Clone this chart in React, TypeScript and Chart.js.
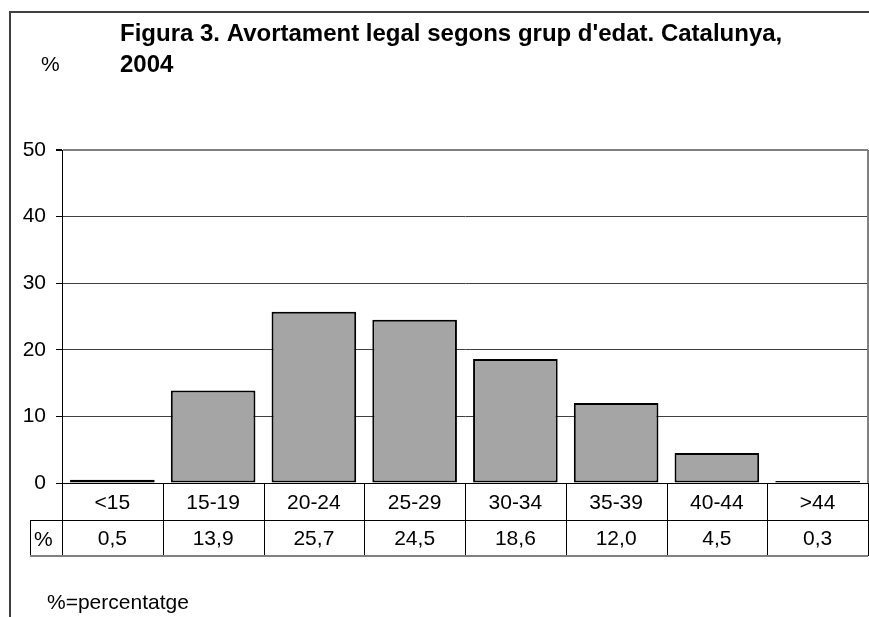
import React, { useEffect, useRef } from "react";
import { Chart, registerables } from "chart.js";

Chart.register(...registerables);

const titleLine1 = "Figura 3. Avortament legal segons grup d'edat. Catalunya,";
const titleLine2 = "2004";
const yUnit = "%";
const footnote = "%=percentatge";
const rowLabel = "%";
const ageGroups = ["<15", "15-19", "20-24", "25-29", "30-34", "35-39", "40-44", ">44"];
const percentages = [0.5, 13.9, 25.7, 24.5, 18.6, 12.0, 4.5, 0.3];
const percentLabels = ["0,5", "13,9", "25,7", "24,5", "18,6", "12,0", "4,5", "0,3"];

const FONT = "'Liberation Sans', Arial, sans-serif";

const decorPlugin = {
  id: "decor",
  afterDraw(chart: any) {
    const ctx = chart.ctx;
    const area = chart.chartArea;
    const xs = chart.scales.x;
    const n = ageGroups.length;
    const colW = (area.right - area.left) / n;
    ctx.save();
    // outer frame
    ctx.strokeStyle = "#404040";
    ctx.lineWidth = 2;
    ctx.beginPath();
    ctx.moveTo(10, 617);
    ctx.lineTo(10, 12);
    ctx.lineTo(869, 12);
    ctx.stroke();
    // plot area right border
    ctx.strokeStyle = "#808080";
    ctx.lineWidth = 2;
    ctx.beginPath();
    ctx.moveTo(area.right, area.top);
    ctx.lineTo(area.right, area.bottom);
    ctx.stroke();
    // title
    ctx.fillStyle = "#000";
    ctx.font = "bold 24px " + FONT;
    ctx.textAlign = "left";
    ctx.textBaseline = "alphabetic";
    ctx.fillText(titleLine1, 120, 41);
    ctx.fillText(titleLine2, 120, 72);
    ctx.font = "21px " + FONT;
    ctx.fillText(yUnit, 41, 71);
    ctx.fillText(footnote, 47, 609);
    // table
    const t0 = area.bottom;
    const t1 = t0 + 37;
    const t2 = t1 + 36;
    ctx.strokeStyle = "#000";
    ctx.lineWidth = 1;
    ctx.beginPath();
    ctx.moveTo(area.left, t0 + 0.5);
    ctx.lineTo(area.right, t0 + 0.5);
    ctx.moveTo(30, t1 + 0.5);
    ctx.lineTo(area.right, t1 + 0.5);
    ctx.moveTo(30.5, t1);
    ctx.lineTo(30.5, t2);
    for (let i = 0; i <= n; i++) {
      const x = Math.round(area.left + i * colW) + 0.5;
      ctx.moveTo(x, t0);
      ctx.lineTo(x, t2);
    }
    ctx.stroke();
    ctx.strokeStyle = "#808080";
    ctx.lineWidth = 2;
    ctx.beginPath();
    ctx.moveTo(30, t2);
    ctx.lineTo(area.right, t2);
    ctx.stroke();
    ctx.fillStyle = "#000";
    ctx.font = "21px " + FONT;
    ctx.textAlign = "center";
    for (let i = 0; i < n; i++) {
      const cx = xs.getPixelForValue(i);
      ctx.fillText(ageGroups[i], cx, t0 + 26);
      ctx.fillText(percentLabels[i], cx, t1 + 25);
    }
    ctx.textAlign = "left";
    ctx.fillText(rowLabel, 34, t1 + 26);
    ctx.restore();
  },
};

export default function App() {
  const ref = useRef<HTMLCanvasElement | null>(null);
  useEffect(() => {
    if (!ref.current) return;
    const chart = new Chart(ref.current, {
      type: "bar",
      data: {
        labels: ageGroups,
        datasets: [
          {
            data: percentages,
            backgroundColor: "#a5a5a5",
            borderColor: "#000",
            borderWidth: 2,
            borderSkipped: false,
            barPercentage: 0.84,
            categoryPercentage: 1,
          },
        ],
      },
      options: {
        responsive: false,
        animation: false,
        layout: { padding: { top: 150, bottom: 134, left: 0, right: 1 } },
        plugins: { legend: { display: false }, tooltip: { enabled: false }, title: { display: false } },
        scales: {
          x: { display: false },
          y: {
            min: 0,
            max: 50,
            afterFit: (s: any) => {
              s.width = 62;
            },
            ticks: { stepSize: 10, color: "#000", font: { family: FONT, size: 21 }, padding: 10 },
            grid: {
              color: (c: any) => (c.tick && c.tick.value === 50 ? "#808080" : "#404040"),
              lineWidth: (c: any) => (c.tick && c.tick.value === 50 ? 2 : 1),
              tickLength: 6,
              tickColor: "#000",
            },
            border: { color: "#000", width: 1 },
          },
        },
      },
      plugins: [decorPlugin],
    });
    return () => chart.destroy();
  }, []);
  return (
    <div style={{ position: "absolute", left: 0, top: 0, width: 869, height: 617, background: "#fff" }}>
      <canvas ref={ref} width={869} height={617} />
    </div>
  );
}
